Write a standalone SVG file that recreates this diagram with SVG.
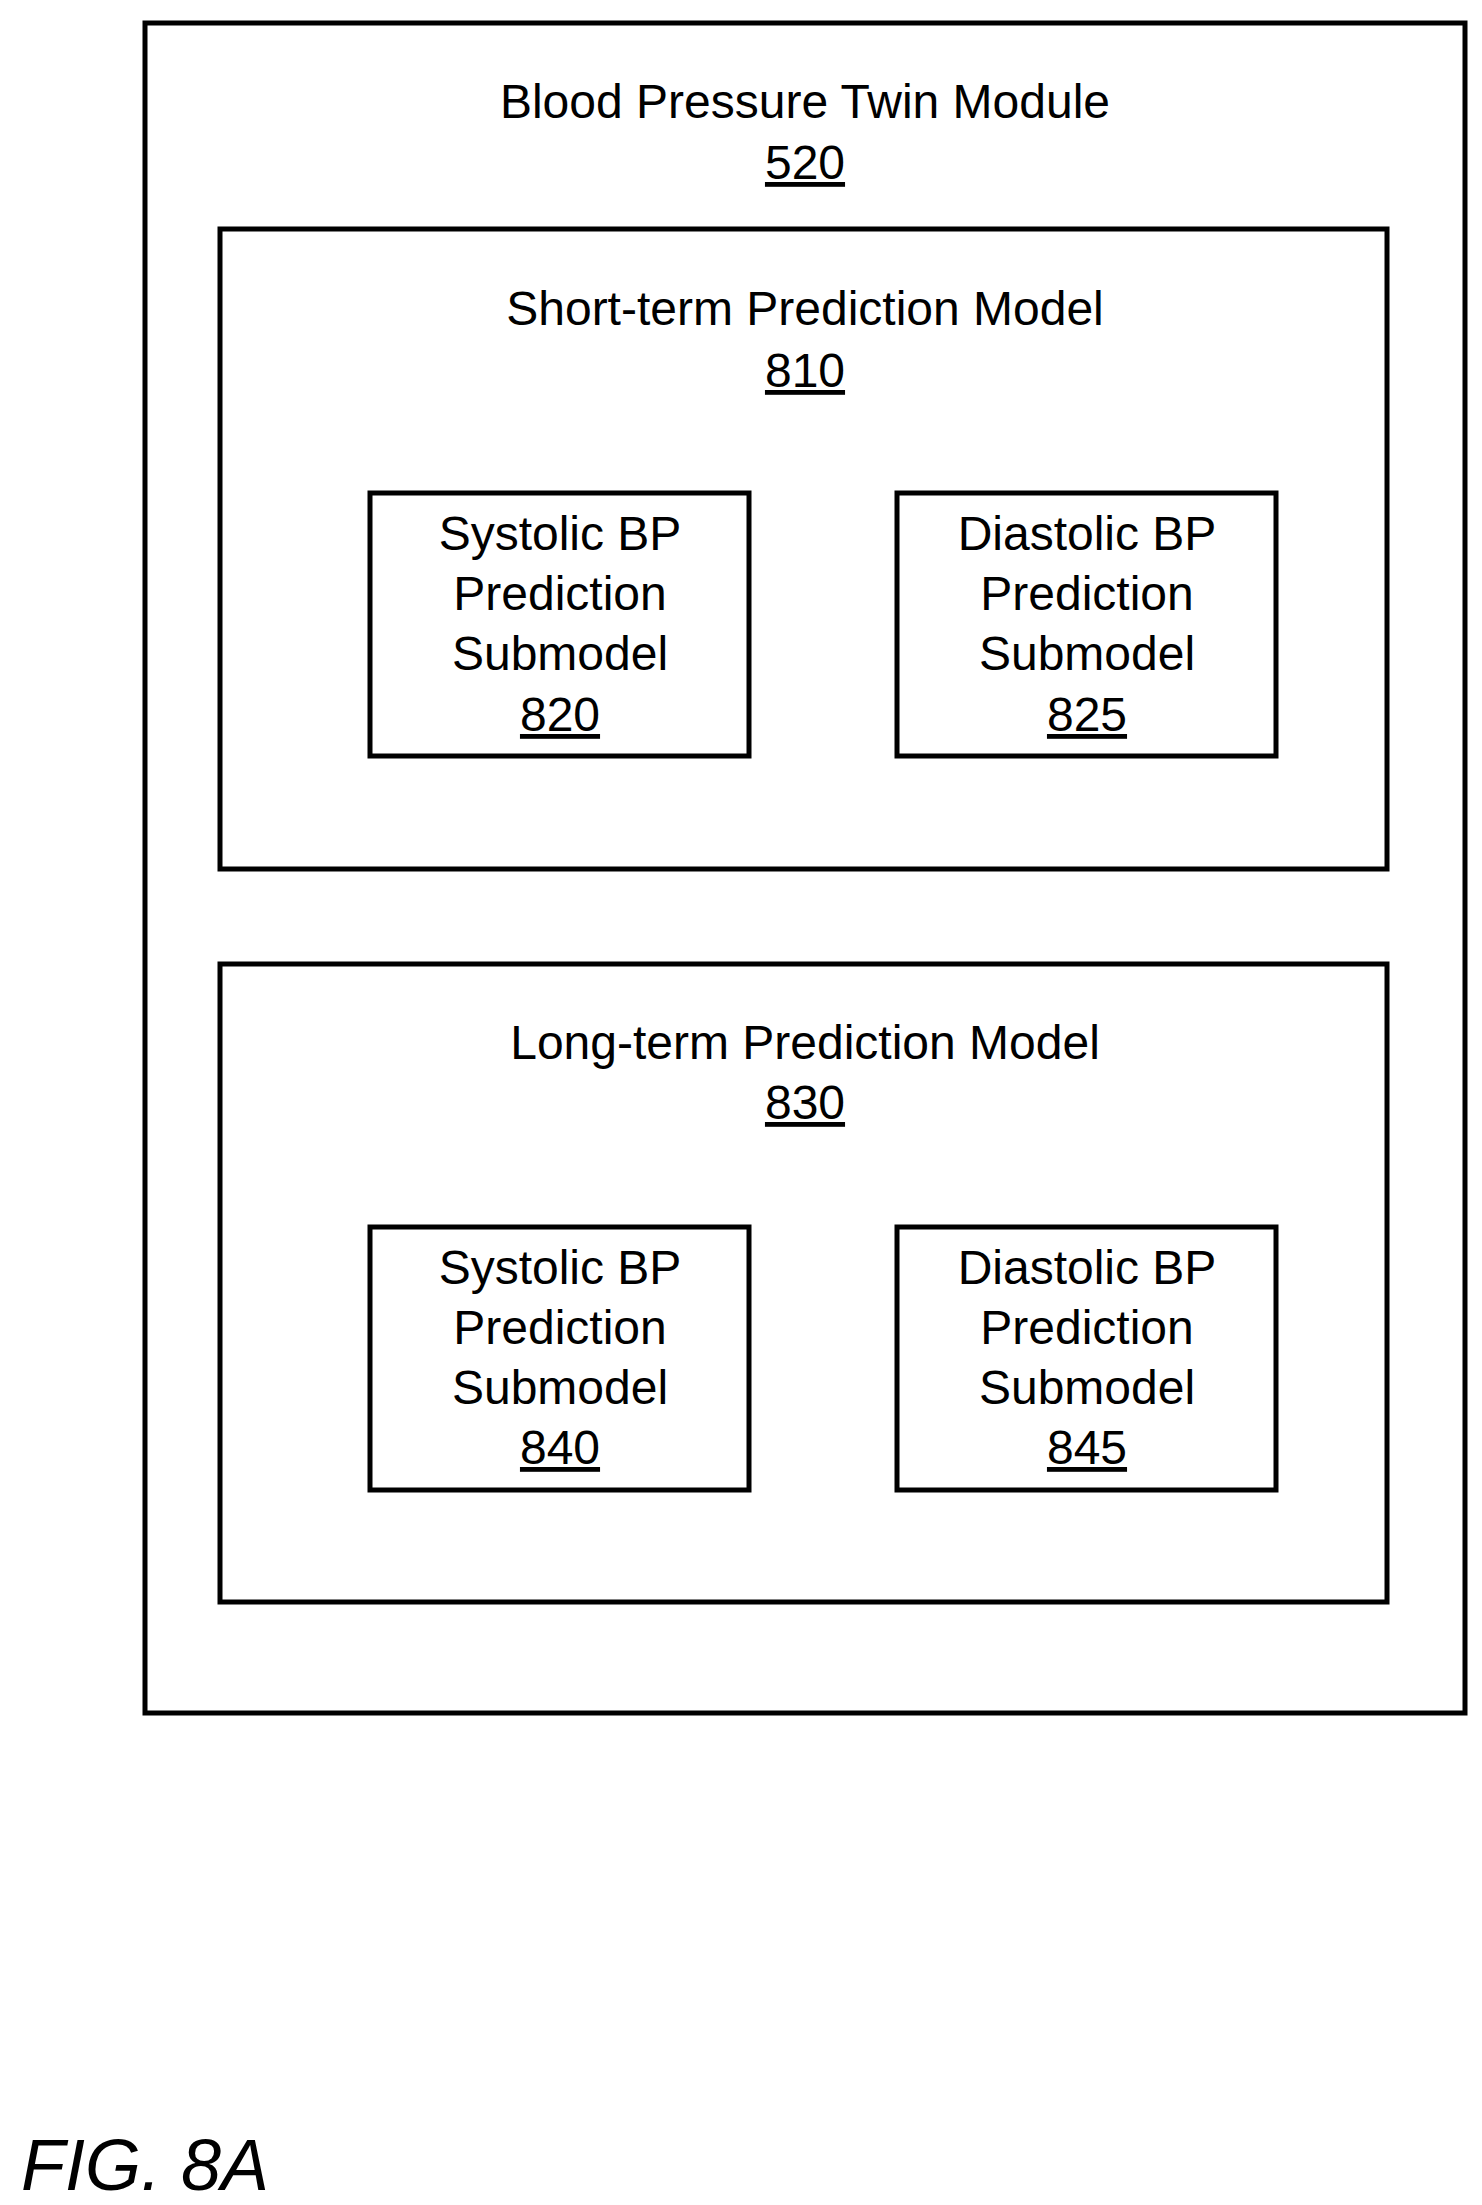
<svg xmlns="http://www.w3.org/2000/svg" width="1482" height="2205" viewBox="0 0 1482 2205">
<style>
.b{fill:none;stroke:#000;stroke-width:5}
text{font-family:"Liberation Sans",Arial,sans-serif;font-size:48px;text-anchor:middle;fill:#000}
.u{text-decoration:underline}
</style>
<rect width="1482" height="2205" fill="#fff"/>
<g id="module520"><rect class="b" x="145" y="23" width="1320" height="1690"/>
<text x="805" y="118">Blood Pressure Twin Module</text><text x="805" y="179" class="u">520</text></g>
<g id="model810"><rect class="b" x="220" y="229" width="1167" height="640"/>
<text x="805" y="325">Short-term Prediction Model</text><text x="805" y="387" class="u">810</text></g>
<g id="sub820"><rect class="b" x="370" y="493" width="379" height="263"/>
<text x="560" y="550">Systolic BP</text><text x="560" y="610">Prediction</text><text x="560" y="670">Submodel</text><text x="560" y="731" class="u">820</text></g>
<g id="sub825"><rect class="b" x="897" y="493" width="379" height="263"/>
<text x="1087" y="550">Diastolic BP</text><text x="1087" y="610">Prediction</text><text x="1087" y="670">Submodel</text><text x="1087" y="731" class="u">825</text></g>
<g id="model830"><rect class="b" x="220" y="964" width="1167" height="638"/>
<text x="805" y="1059">Long-term Prediction Model</text><text x="805" y="1119" class="u">830</text></g>
<g id="sub840"><rect class="b" x="370" y="1227" width="379" height="263"/>
<text x="560" y="1284">Systolic BP</text><text x="560" y="1344">Prediction</text><text x="560" y="1404">Submodel</text><text x="560" y="1464" class="u">840</text></g>
<g id="sub845"><rect class="b" x="897" y="1227" width="379" height="263"/>
<text x="1087" y="1284">Diastolic BP</text><text x="1087" y="1344">Prediction</text><text x="1087" y="1404">Submodel</text><text x="1087" y="1464" class="u">845</text></g>
<g id="connectors"/>
<text x="21" y="2190" style="text-anchor:start;font-style:italic;font-size:72px">FIG. 8A</text>
</svg>
